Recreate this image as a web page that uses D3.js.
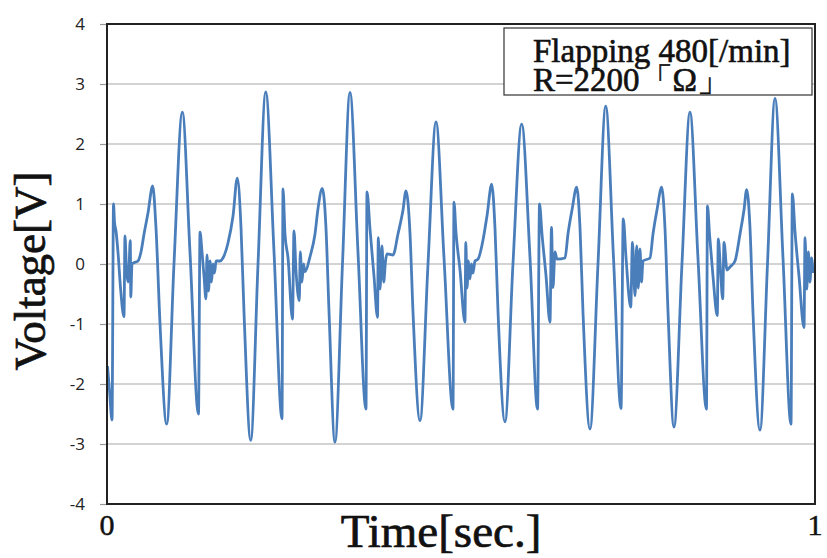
<!DOCTYPE html>
<html>
<head>
<meta charset="utf-8">
<script src="https://cdn.jsdelivr.net/npm/d3@7"></script>
<style>
  body { margin: 0; background: #fff; }
  svg { display: block; }
</style>
</head>
<body>
<div id="chart"></div>
<script>
// time [s] and voltage [V]
const timeSec = [
  0.0007, 0.0035, 0.0071, 0.0092, 0.0106, 0.0127, 0.0155, 0.0191, 0.0240, 0.0254,
  0.0275, 0.0297, 0.0311, 0.0329, 0.0336, 0.0353, 0.0381, 0.0438, 0.0480, 0.0523,
  0.0579, 0.0645, 0.0692, 0.0749, 0.0843, 0.0946, 0.1064, 0.1172, 0.1292, 0.1314,
  0.1342, 0.1370, 0.1398, 0.1412, 0.1434, 0.1455, 0.1476, 0.1497, 0.1519, 0.1540,
  0.1596, 0.1638, 0.1709, 0.1780, 0.1840, 0.1893, 0.1935, 0.2030, 0.2133, 0.2242,
  0.2359, 0.2472, 0.2486, 0.2514, 0.2557, 0.2620, 0.2641, 0.2669, 0.2716, 0.2730,
  0.2754, 0.2775, 0.2797, 0.2867, 0.2938, 0.2980, 0.3041, 0.3093, 0.3136, 0.3220,
  0.3326, 0.3432, 0.3545, 0.3658, 0.3672, 0.3715, 0.3771, 0.3821, 0.3832, 0.3856,
  0.3884, 0.3908, 0.3934, 0.3955, 0.4040, 0.4110, 0.4181, 0.4223, 0.4280, 0.4322,
  0.4421, 0.4534, 0.4647, 0.4760, 0.4887, 0.4901, 0.4929, 0.4986, 0.5056, 0.5068,
  0.5085, 0.5106, 0.5127, 0.5148, 0.5169, 0.5198, 0.5240, 0.5311, 0.5367, 0.5434,
  0.5480, 0.5523, 0.5621, 0.5734, 0.5857, 0.5975, 0.6081, 0.6109, 0.6144, 0.6201,
  0.6257, 0.6278, 0.6299, 0.6328, 0.6356, 0.6469, 0.6511, 0.6568, 0.6634, 0.6681,
  0.6723, 0.6822, 0.6935, 0.7044, 0.7154, 0.7260, 0.7292, 0.7331, 0.7397, 0.7422,
  0.7458, 0.7482, 0.7503, 0.7528, 0.7549, 0.7571, 0.7669, 0.7712, 0.7768, 0.7835,
  0.7881, 0.7924, 0.8008, 0.8121, 0.8234, 0.8347, 0.8467, 0.8481, 0.8510, 0.8559,
  0.8620, 0.8634, 0.8665, 0.8696, 0.8715, 0.8757, 0.8799, 0.8870, 0.8941, 0.8997,
  0.9035, 0.9082, 0.9124, 0.9223, 0.9329, 0.9435, 0.9548, 0.9661, 0.9680, 0.9718,
  0.9774, 0.9845, 0.9859, 0.9883, 0.9906, 0.9929, 0.9951, 0.9972
];
const voltage = [
  -1.7, -2.1, -2.6, 1.0, 0.7, 0.55, 0.2, -0.4, -0.88, 0.47,
  -0.1, -0.3, -0.05, 0.39, -0.55, 0.0, 0.02, 0.05, 0.2, 0.5,
  0.85, 1.3, 0.6, -1.0, -2.67, 0.0, 2.53, 0.2, -2.5, 0.53,
  0.2, -0.2, -0.58, 0.15, -0.45, 0.05, -0.3, 0.0, -0.15, 0.05,
  0.05, 0.1, 0.35, 0.8, 1.43, 0.6, -0.8, -2.94, 0.0, 2.87,
  0.2, -2.58, 1.25, 0.5, 0.1, -0.92, 0.55, -0.1, -0.61, 0.2,
  -0.3, 0.0, -0.13, 0.12, 0.5, 0.92, 1.26, 0.6, -0.8, -2.97,
  0.0, 2.86, 0.2, -2.42, 1.2, 0.58, -0.2, -0.89, 0.44, -0.42,
  0.3, -0.3, 0.05, 0.17, 0.15, 0.5, 0.9, 1.22, 0.5, -0.8,
  -2.61, 0.0, 2.37, 0.1, -2.42, 1.03, 0.53, -0.1, -0.97, 0.36,
  -0.4, 0.05, -0.25, 0.0, -0.15, 0.05, 0.08, 0.4, 0.8, 1.33,
  0.6, -0.8, -2.63, 0.0, 2.33, 0.1, -2.42, 1.0, 0.5, -0.2,
  -0.97, 0.61, -0.39, 0.2, 0.08, 0.1, 0.5, 0.9, 1.28, 0.6,
  -0.8, -2.75, 0.0, 2.63, 0.1, -2.41, 0.75, 0.1, -0.72, 0.36,
  -0.53, 0.3, -0.4, 0.25, -0.3, 0.05, 0.1, 0.5, 0.9, 1.28,
  0.6, -0.8, -2.72, 0.0, 2.53, 0.1, -2.42, 0.97, 0.5, -0.2,
  -0.86, 0.42, -0.1, -0.58, 0.36, -0.1, -0.05, 0.05, 0.5, 0.9,
  1.24, 0.6, -0.8, -2.77, 0.0, 2.76, 0.1, -2.67, 1.17, 0.53,
  -0.2, -1.06, 0.44, -0.42, 0.2, -0.3, 0.1, -0.15
];
const yTicks = [-4, -3, -2, -1, 0, 1, 2, 3, 4];
const xTickLabels = ['0', '1'];
const legendLines = ['Flapping 480[/min]', 'R=2200\u300c\u03a9\u300d'];

const width = 827, height = 558;
const margin = {top: 24, right: 12, bottom: 54, left: 107};
const serif = '"Liberation Serif", "DejaVu Serif", serif';

const svg = d3.select('#chart').append('svg')
  .attr('width', width)
  .attr('height', height);

const x = d3.scaleLinear().domain([0, 1]).range([margin.left, width - margin.right]);
const y = d3.scaleLinear().domain([-4, 4]).range([height - margin.bottom, margin.top]);

// horizontal grid
svg.append('g').selectAll('line')
  .data(yTicks.filter(d => d > -4 && d < 4))
  .enter().append('line')
  .attr('x1', x(0)).attr('x2', x(1))
  .attr('y1', d => y(d)).attr('y2', d => y(d))
  .attr('stroke', '#c4c4c4')
  .attr('stroke-width', 1.5);

// y axis ticks and labels
const yAxis = svg.append('g')
  .attr('transform', `translate(${x(0)},0)`)
  .call(d3.axisLeft(y).tickValues(yTicks).tickSize(7).tickPadding(15).tickFormat(d => String(d)));
yAxis.select('.domain').remove();
yAxis.selectAll('.tick line').attr('stroke', '#999').attr('stroke-width', 1.2);
yAxis.selectAll('.tick text')
  .attr('fill', '#222')
  .style('font-family', '"Open Sans", "Noto Sans", sans-serif')
  .style('font-size', '17px');

// signal
const line = d3.line()
  .x(d => x(d[0]))
  .y(d => y(d[1]))
  .curve(d3.curveMonotoneX);

svg.append('path')
  .datum(d3.zip(timeSec, voltage))
  .attr('fill', 'none')
  .attr('stroke', '#4a7ebb')
  .attr('stroke-width', 2.8)
  .attr('stroke-linejoin', 'round')
  .attr('d', line);

// plot frame
svg.append('rect')
  .attr('x', x(0)).attr('y', y(4))
  .attr('width', x(1) - x(0))
  .attr('height', y(-4) - y(4))
  .attr('fill', 'none')
  .attr('stroke', '#222')
  .attr('stroke-width', 2);

// legend box, both lines in one text block
const legend = svg.append('g');
legend.append('rect')
  .attr('x', 504).attr('y', 28)
  .attr('width', 308).attr('height', 67)
  .attr('fill', '#fff')
  .attr('stroke', '#333')
  .attr('stroke-width', 1.2);
legend.append('text')
  .attr('x', 533)
  .attr('y', 62)
  .style('font-family', serif)
  .style('font-size', '33px')
  .attr('fill', '#111')
  .attr('stroke', '#111')
  .attr('stroke-width', 0.6)
  .selectAll('tspan')
  .data(legendLines)
  .enter().append('tspan')
  .attr('x', 533)
  .attr('dy', (d, i) => i === 0 ? 0 : 29)
  .text(d => d);

// x end labels
svg.append('g').selectAll('text')
  .data(xTickLabels)
  .enter().append('text')
  .attr('x', (d, i) => x(+d))
  .attr('y', 535)
  .attr('text-anchor', 'middle')
  .style('font-family', serif)
  .style('font-size', '30px')
  .attr('fill', '#111')
  .attr('stroke', '#111')
  .attr('stroke-width', 0.5)
  .text(d => d);

// axis titles
svg.append('text')
  .attr('x', 441)
  .attr('y', 547)
  .attr('text-anchor', 'middle')
  .style('font-family', serif)
  .style('font-size', '47px')
  .attr('fill', '#111')
  .attr('stroke', '#111')
  .attr('stroke-width', 0.7)
  .text('Time[sec.]');

svg.append('text')
  .attr('transform', 'translate(45,271) rotate(-90)')
  .attr('text-anchor', 'middle')
  .style('font-family', serif)
  .style('font-size', '45px')
  .attr('fill', '#111')
  .attr('stroke', '#111')
  .attr('stroke-width', 0.7)
  .text('Voltage[V]');
</script>
</body>
</html>
